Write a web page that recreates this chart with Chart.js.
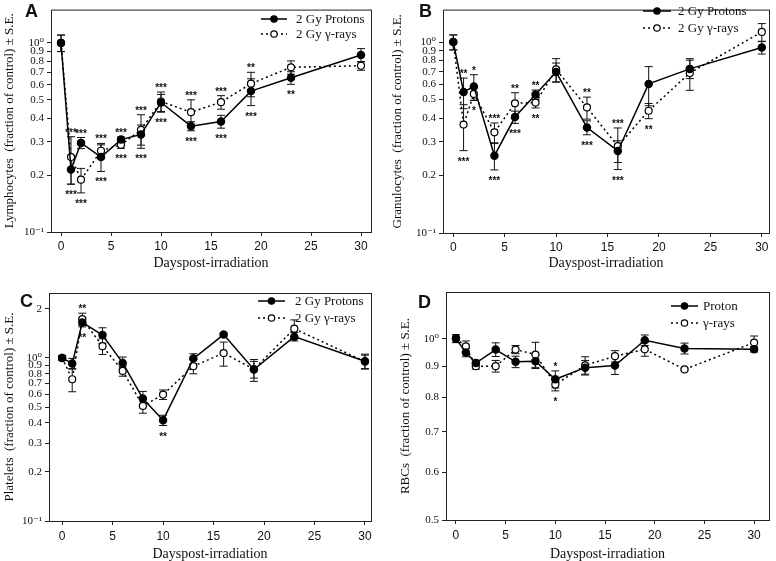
<!DOCTYPE html>
<html>
<head>
<meta charset="utf-8">
<script src="https://cdn.jsdelivr.net/npm/chart.js@4.4.1/dist/chart.umd.min.js"></script>
<style>
  html, body { margin: 0; padding: 0; background: #fff; }
  #page { position: relative; width: 776px; height: 561px; overflow: hidden; }
  .panel { position: absolute; }
</style>
</head>
<body>
<div id="page">
  <div class="panel" style="left:0;top:0"><canvas id="chartA" width="388" height="280"></canvas></div>
  <div class="panel" style="left:388px;top:0"><canvas id="chartB" width="388" height="280"></canvas></div>
  <div class="panel" style="left:0;top:280px"><canvas id="chartC" width="388" height="281"></canvas></div>
  <div class="panel" style="left:388px;top:280px"><canvas id="chartD" width="388" height="281"></canvas></div>
</div>
<script>
// days post-irradiation (shared x values)
const days = [0, 1, 2, 4, 6, 8, 10, 13, 16, 19, 23, 30];
const xTicks = [0, 5, 10, 15, 20, 25, 30];

// A - lymphocytes
const lymphProton   = [1.0, 0.214, 0.296, 0.249, 0.308, 0.328, 0.484, 0.363, 0.384, 0.556, 0.654, 0.863];
const lymphProtonSE = [0.1, 0.035, 0.02, 0.04, 0.01, 0.04, 0.05, 0.02, 0.03, 0.09, 0.05, 0.07];
const lymphGamma    = [1.0, 0.249, 0.189, 0.269, 0.289, 0.347, 0.49, 0.43, 0.486, 0.609, 0.743, 0.757];
const lymphGammaSE  = [0.1, 0.07, 0.028, 0.025, 0.012, 0.07, 0.06, 0.07, 0.04, 0.09, 0.06, 0.04];
const lymphStarsUp  = ['', '***', '***', '***', '***', '***', '***', '***', '***', '**', '', ''];
const lymphStarsDn  = ['', '***', '***', '***', '***', '***', '***', '***', '***', '***', '**', ''];

// B - granulocytes
const granProton   = [1.0, 0.548, 0.585, 0.254, 0.405, 0.531, 0.697, 0.357, 0.269, 0.604, 0.724, 0.936];
const granProtonSE = [0.09, 0.1, 0.09, 0.04, 0.03, 0.03, 0.08, 0.03, 0.035, 0.14, 0.08, 0.07];
const granGamma    = [1.0, 0.370, 0.535, 0.337, 0.478, 0.482, 0.719, 0.455, 0.285, 0.437, 0.689, 1.13];
const granGammaSE  = [0.09, 0.1, 0.04, 0.04, 0.065, 0.03, 0.1, 0.06, 0.07, 0.04, 0.13, 0.12];
const granStarsUp  = ['', '**', '*', '***', '**', '**', '', '**', '***', '', '', ''];
const granStarsDn  = ['', '***', '*', '***', '***', '**', '', '***', '***', '**', '', ''];

// C - platelets
const platProton   = [1.0, 0.923, 1.65, 1.38, 0.932, 0.563, 0.415, 0.99, 1.39, 0.848, 1.35, 0.954];
const platProtonSE = [0.03, 0.07, 0.1, 0.15, 0.08, 0.06, 0.03, 0.07, 0.03, 0.13, 0.08, 0.1];
const platGamma    = [1.0, 0.74, 1.73, 1.18, 0.832, 0.508, 0.596, 0.889, 1.07, 0.852, 1.51, 0.95];
const platGammaSE  = [0.03, 0.12, 0.15, 0.13, 0.06, 0.05, 0.04, 0.09, 0.18, 0.1, 0.2, 0.09];
const platStarsUp  = ['', '', '**', '', '', '', '', '', '', '', '', ''];
const platStarsDn  = ['', '', '**', '', '', '', '**', '', '', '', '', ''];

// D - RBCs
const rbcProton   = [1.0, 0.948, 0.911, 0.959, 0.915, 0.917, 0.856, 0.895, 0.902, 0.994, 0.963, 0.960];
const rbcProtonSE = [0.015, 0.015, 0.01, 0.025, 0.02, 0.025, 0.028, 0.025, 0.03, 0.02, 0.02, 0.01];
const rbcGamma    = [1.0, 0.971, 0.90, 0.90, 0.959, 0.941, 0.839, 0.903, 0.935, 0.960, 0.889, 0.985];
const rbcGammaSE  = [0.015, 0.02, 0.01, 0.02, 0.015, 0.045, 0.02, 0.03, 0.02, 0.025, 0.004, 0.025];
const rbcStarsUp  = ['', '', '', '', '', '', '*', '', '', '', '', ''];
const rbcStarsDn  = ['', '', '', '', '', '', '*', '', '', '', '', ''];

// y tick values
const decadeTicks = [0.1, 0.2, 0.3, 0.4, 0.5, 0.6, 0.7, 0.8, 0.9, 1];
const plateletTicks = [0.1, 0.2, 0.3, 0.4, 0.5, 0.6, 0.7, 0.8, 0.9, 1, 2];
const rbcTicks = [0.5, 0.6, 0.7, 0.8, 0.9, 1];

const SERIF = '"Liberation Serif", "DejaVu Serif", serif';
const SANS = '"Liberation Sans", Arial, sans-serif';

function tickLabel(v) {
  if (v === 1) return '10⁰';
  if (v === 0.1) return '10⁻¹';
  if (v === 2) return '2';
  return v.toFixed(1);
}

function pts(vals) {
  return vals.map((v, i) => ({ x: days[i], y: v }));
}

// vertical error bars, drawn under the lines/markers
const errorBars = {
  id: 'errorBars',
  beforeDatasetsDraw(chart) {
    const { ctx, scales: { x, y } } = chart;
    ctx.save();
    ctx.strokeStyle = '#111';
    ctx.lineWidth = 1;
    chart.data.datasets.forEach(ds => {
      if (!ds.errors) return;
      ds.data.forEach((p, j) => {
        const e = ds.errors[j];
        if (!e) return;
        const px = x.getPixelForValue(p.x);
        const top = y.getPixelForValue(p.y + e);
        const bot = y.getPixelForValue(p.y - e);
        ctx.beginPath();
        ctx.moveTo(px, top); ctx.lineTo(px, bot);
        ctx.moveTo(px - 4, top); ctx.lineTo(px + 4, top);
        ctx.moveTo(px - 4, bot); ctx.lineTo(px + 4, bot);
        ctx.stroke();
      });
    });
    ctx.restore();
  }
};

// significance stars, box border, panel letter and legend
const decorations = {
  id: 'decorations',
  afterDatasetsDraw(chart, args, opts) {
    const { ctx, chartArea: a, scales: { x, y } } = chart;
    const sets = chart.data.datasets;
    ctx.save();
    // box around plot
    ctx.strokeStyle = '#222';
    ctx.lineWidth = 1;
    ctx.strokeRect(a.left + 0.5, a.top + 0.5, a.right - a.left, a.bottom - a.top);

    // stars
    ctx.fillStyle = '#111';
    ctx.font = 'bold 10px ' + SANS;
    ctx.textAlign = 'center';
    ctx.textBaseline = 'alphabetic';
    days.forEach((d, i) => {
      let top = Infinity, bot = -Infinity;
      sets.forEach(ds => {
        const v = ds.data[i].y, e = ds.errors[i];
        top = Math.min(top, y.getPixelForValue(v + e));
        bot = Math.max(bot, y.getPixelForValue(v - e));
      });
      const px = x.getPixelForValue(d);
      if (opts.starsUp[i]) ctx.fillText(opts.starsUp[i], px, top - 1);
      if (opts.starsDn[i]) ctx.fillText(opts.starsDn[i], px, bot + 14);
    });

    // panel letter
    ctx.textAlign = 'left';
    ctx.font = 'bold 18px ' + SANS;
    ctx.fillText(opts.letter, opts.letterPos[0], opts.letterPos[1]);

    // legend
    const lg = opts.legend;
    ctx.font = '13px ' + SERIF;
    ctx.textBaseline = 'middle';
    sets.forEach((ds, k) => {
      const ly = lg.y + k * lg.gap;
      ctx.strokeStyle = '#000';
      ctx.lineWidth = 1.5;
      ctx.setLineDash(ds.borderDash || []);
      ctx.beginPath();
      ctx.moveTo(lg.x0, ly); ctx.lineTo(lg.x1, ly);
      ctx.stroke();
      ctx.setLineDash([]);
      ctx.beginPath();
      ctx.arc((lg.x0 + lg.x1) / 2, ly, 3.2, 0, Math.PI * 2);
      ctx.fillStyle = ds.pointBackgroundColor;
      ctx.fill();
      ctx.lineWidth = 1.2;
      ctx.stroke();
      ctx.fillStyle = '#111';
      ctx.fillText(lg.labels[k], lg.tx, ly + 1);
    });
    ctx.restore();
  }
};

function makePanel(id, p) {
  return new Chart(document.getElementById(id), {
    type: 'line',
    data: {
      datasets: [
        {
          label: p.legend.labels[0], data: pts(p.proton), errors: p.protonSE,
          borderColor: '#000', borderWidth: 1.5,
          pointRadius: 3.5, pointBackgroundColor: '#000', pointBorderColor: '#000'
        },
        {
          label: p.legend.labels[1], data: pts(p.gamma), errors: p.gammaSE,
          borderColor: '#000', borderWidth: 1.5, borderDash: [2, 3],
          pointRadius: 3.5, pointBackgroundColor: '#fff', pointBorderColor: '#000', pointBorderWidth: 1.2
        }
      ]
    },
    options: {
      responsive: false,
      devicePixelRatio: 1,
      animation: false,
      layout: { autoPadding: false, padding: { left: 0, top: p.area.top, right: p.w - p.area.right, bottom: 0 } },
      plugins: {
        legend: { display: false },
        tooltip: { enabled: false },
        decorations: {
          starsUp: p.starsUp, starsDn: p.starsDn,
          letter: p.letter, letterPos: p.letterPos, legend: p.legend
        }
      },
      scales: {
        x: {
          type: 'linear', min: p.xMin, max: p.xMax,
          afterBuildTicks: s => { s.ticks = xTicks.map(v => ({ value: v })); },
          afterFit: s => { s.height = p.h - p.area.bottom; },
          grid: { drawOnChartArea: false, drawTicks: true, tickLength: 4, color: '#222' },
          border: { display: false },
          ticks: { color: '#111', padding: p.xTickPad, font: { family: SANS, size: 12 }, maxRotation: 0 },
          title: { display: true, text: 'Dayspost-irradiation', color: '#111',
                   font: { family: SERIF, size: 14, lineHeight: 1 }, padding: { top: 0, bottom: p.xTitlePad } }
        },
        y: {
          type: 'logarithmic', min: p.yMin, max: p.yMax,
          afterBuildTicks: s => { s.ticks = p.yTicks.map(v => ({ value: v })); },
          afterFit: s => { s.width = p.area.left; },
          grid: { drawOnChartArea: false, drawTicks: true, tickLength: 4, color: '#222' },
          border: { display: false },
          ticks: { color: '#111', padding: 3, font: { family: SERIF, size: 11 }, callback: v => tickLabel(v) },
          title: { display: true, text: p.yTitle, color: '#111',
                   font: { family: SERIF, size: 13 }, padding: { top: p.yTitlePad, bottom: 0 } }
        }
      }
    },
    plugins: [errorBars, decorations]
  });
}

makePanel('chartA', {
  w: 388, h: 280, area: { left: 51, right: 371, top: 4, bottom: 232 },
  xMin: -1, xMax: 31, yMin: 0.1, yMax: 1.5, yTicks: decadeTicks,
  xTickPad: 3, xTitlePad: 10, yTitlePad: 2,
  proton: lymphProton, protonSE: lymphProtonSE, gamma: lymphGamma, gammaSE: lymphGammaSE,
  starsUp: lymphStarsUp, starsDn: lymphStarsDn,
  yTitle: 'Lymphocytes  (fraction of control) ± S.E.',
  letter: 'A', letterPos: [25, 17],
  legend: { x0: 261, x1: 287, tx: 296, y: 19, gap: 15, labels: ['2 Gy Protons', '2 Gy γ-rays'] }
});

makePanel('chartB', {
  w: 388, h: 280, area: { left: 55, right: 381, top: 2, bottom: 233 },
  xMin: -1, xMax: 30.7, yMin: 0.1, yMax: 1.48, yTicks: decadeTicks,
  xTickPad: 3, xTitlePad: 10, yTitlePad: 2,
  proton: granProton, protonSE: granProtonSE, gamma: granGamma, gammaSE: granGammaSE,
  starsUp: granStarsUp, starsDn: granStarsDn,
  yTitle: 'Granulocytes  (fraction of control) ± S.E.',
  letter: 'B', letterPos: [31, 17],
  legend: { x0: 255, x1: 283, tx: 290, y: 11, gap: 17, labels: ['2 Gy Protons', '2 Gy γ-rays'] }
});

makePanel('chartC', {
  w: 388, h: 281, area: { left: 49, right: 371, top: 13, bottom: 241 },
  xMin: -1.3, xMax: 30.6, yMin: 0.1, yMax: 2.5, yTicks: plateletTicks,
  xTickPad: 4, xTitlePad: 0, yTitlePad: 2,
  proton: platProton, protonSE: platProtonSE, gamma: platGamma, gammaSE: platGammaSE,
  starsUp: platStarsUp, starsDn: platStarsDn,
  yTitle: 'Platelets  (fraction of control) ± S.E.',
  letter: 'C', letterPos: [20, 27],
  legend: { x0: 258, x1: 285, tx: 295, y: 21, gap: 17, labels: ['2 Gy Protons', '2 Gy γ-rays'] }
});

makePanel('chartD', {
  w: 388, h: 281, area: { left: 58, right: 381, top: 12, bottom: 240 },
  xMin: -1, xMax: 31.5, yMin: 0.5, yMax: 1.195, yTicks: rbcTicks,
  xTickPad: 4, xTitlePad: 0, yTitlePad: 10,
  proton: rbcProton, protonSE: rbcProtonSE, gamma: rbcGamma, gammaSE: rbcGammaSE,
  starsUp: rbcStarsUp, starsDn: rbcStarsDn,
  yTitle: 'RBCs  (fraction of control) ± S.E.',
  letter: 'D', letterPos: [30, 28],
  legend: { x0: 283, x1: 310, tx: 315, y: 26, gap: 17, labels: ['Proton', 'γ-rays'] }
});
</script>
</body>
</html>
